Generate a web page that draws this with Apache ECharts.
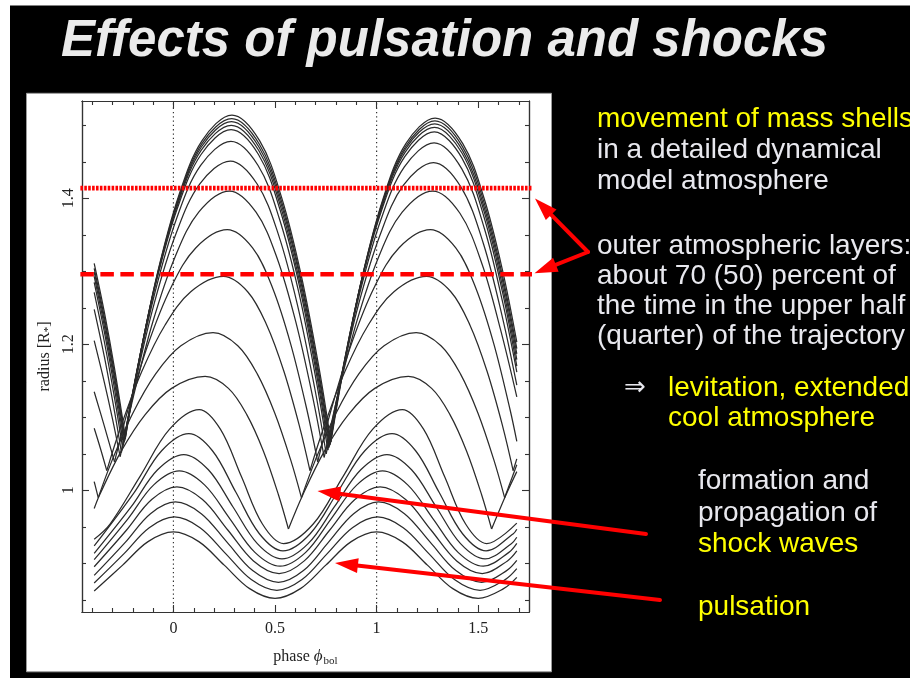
<!DOCTYPE html>
<html>
<head>
<meta charset="utf-8">
<script src="https://cdn.jsdelivr.net/npm/echarts@6/dist/echarts.min.js"></script>
<style>
  html, body { margin: 0; padding: 0; background: #000; }
  #chart { width: 910px; height: 678px; }
</style>
</head>
<body>
<div id="chart"></div>
<script>
// ---- Mass-shell trajectories: radius [R*] against bolometric phase ----
// Outer shells: ballistic arcs broken at each shock passage (one sub-array per arc).
const shell01 = [
  [[-0.39,1.311],[-0.34,1.244],[-0.29,1.167],[-0.236,1.072]],
  [[-0.236,1.072],[-0.173,1.172],[-0.079,1.297],[0.026,1.4035],[0.141,1.479],[0.288,1.514],[0.424,1.479],[0.5315,1.402],[0.629,1.2945],[0.717,1.167],[0.775,1.066]],
  [[0.775,1.066],[0.837,1.166],[0.929,1.292],[1.0315,1.399],[1.144,1.475],[1.288,1.51],[1.424,1.475],[1.53,1.399],[1.62,1.301],[1.69,1.203]]
];
const shell02 = [
  [[-0.39,1.304],[-0.34,1.237],[-0.29,1.160],[-0.238,1.070]],
  [[-0.238,1.070],[-0.175,1.169],[-0.0805,1.294],[0.0245,1.399],[0.140,1.475],[0.287,1.509],[0.423,1.474],[0.5295,1.398],[0.6265,1.291],[0.714,1.164],[0.772,1.064]],
  [[0.772,1.064],[0.834,1.164],[0.9265,1.289],[1.0295,1.3955],[1.143,1.471],[1.287,1.506],[1.423,1.4705],[1.53,1.393],[1.62,1.293],[1.69,1.194]]
];
const shell03 = [
  [[-0.39,1.299],[-0.34,1.232],[-0.29,1.155],[-0.24,1.068]],
  [[-0.24,1.068],[-0.177,1.1666],[-0.082,1.291],[0.023,1.396],[0.139,1.471],[0.286,1.505],[0.4215,1.470],[0.528,1.394],[0.625,1.288],[0.712,1.162],[0.770,1.062]],
  [[0.770,1.062],[0.832,1.161],[0.925,1.286],[1.028,1.392],[1.1415,1.4675],[1.286,1.502],[1.422,1.466],[1.53,1.387],[1.62,1.287],[1.69,1.187]]
];
const shell04 = [
  [[-0.39,1.293],[-0.34,1.225],[-0.29,1.148],[-0.243,1.066]],
  [[-0.243,1.066],[-0.180,1.164],[-0.085,1.287],[0.021,1.3915],[0.137,1.466],[0.285,1.5],[0.420,1.4655],[0.526,1.39],[0.6225,1.284],[0.709,1.159],[0.767,1.06]],
  [[0.767,1.06],[0.829,1.1586],[0.922,1.283],[1.026,1.388],[1.140,1.463],[1.285,1.497],[1.42,1.462],[1.53,1.381],[1.62,1.279],[1.69,1.179]]
];
const shell05 = [
  [[-0.39,1.285],[-0.34,1.217],[-0.29,1.139],[-0.246,1.063]],
  [[-0.246,1.063],[-0.182,1.160],[-0.087,1.283],[0.019,1.386],[0.136,1.460],[0.284,1.494],[0.4185,1.460],[0.524,1.385],[0.62,1.280],[0.706,1.156],[0.764,1.058]],
  [[0.764,1.058],[0.826,1.1557],[0.92,1.279],[1.024,1.383],[1.1385,1.457],[1.284,1.491],[1.42,1.455],[1.53,1.373],[1.62,1.271],[1.69,1.170]]
];
const shell06 = [
  [[-0.39,1.271],[-0.34,1.2035],[-0.29,1.1265],[-0.25,1.058]],
  [[-0.25,1.058],[-0.186,1.153],[-0.09,1.272],[0.0165,1.373],[0.134,1.445],[0.283,1.478],[0.4166,1.445],[0.5215,1.372],[0.617,1.271],[0.703,1.150],[0.76,1.055]],
  [[0.76,1.055],[0.823,1.150],[0.917,1.270],[1.0215,1.371],[1.1366,1.443],[1.283,1.476],[1.42,1.44],[1.53,1.359],[1.62,1.258],[1.69,1.162]]
];
const shell07 = [
  [[-0.39,1.248],[-0.34,1.183],[-0.29,1.108],[-0.256,1.052]],
  [[-0.256,1.052],[-0.1917,1.142],[-0.0952,1.2555],[0.012,1.351],[0.1299,1.4197],[0.28,1.451],[0.412,1.4196],[0.516,1.351],[0.61,1.2545],[0.695,1.1405],[0.752,1.05]],
  [[0.752,1.05],[0.815,1.14],[0.91,1.2535],[1.016,1.349],[1.132,1.418],[1.28,1.449],[1.415,1.4155],[1.525,1.3385],[1.62,1.236],[1.69,1.144]]
];
const shell08 = [
  [[-0.39,1.205],[-0.34,1.148],[-0.30,1.098],[-0.262,1.046]],
  [[-0.262,1.046],[-0.1974,1.128],[-0.1006,1.2316],[0.007,1.319],[0.1254,1.3815],[0.276,1.41],[0.4065,1.381],[0.509,1.319],[0.602,1.231],[0.686,1.127],[0.742,1.045]],
  [[0.742,1.045],[0.806,1.127],[0.902,1.231],[1.009,1.319],[1.126,1.381],[1.276,1.41],[1.41,1.3795],[1.52,1.309],[1.61,1.22],[1.69,1.128]]
];
const shell09 = [
  [[-0.39,1.135],[-0.34,1.088],[-0.29,1.039]],
  [[-0.29,1.039],[-0.2234,1.1107],[-0.1235,1.201],[-0.0125,1.2775],[0.1096,1.332],[0.265,1.357],[0.3896,1.332],[0.4875,1.2775],[0.5765,1.201],[0.6566,1.1107],[0.71,1.039]],
  [[0.71,1.039],[0.7766,1.1107],[0.8765,1.201],[0.9875,1.2775],[1.1096,1.332],[1.265,1.357],[1.3896,1.332],[1.4875,1.2775],[1.5765,1.201],[1.6566,1.1107],[1.69,1.067]]
];
const shell10 = [
  [[-0.39,1.085],[-0.36,1.058],[-0.328,1.027]],
  [[-0.328,1.027],[-0.259,1.087],[-0.1558,1.1627],[-0.041,1.2265],[0.0853,1.272],[0.246,1.293],[0.3653,1.272],[0.459,1.2265],[0.544,1.1627],[0.621,1.087],[0.672,1.027]],
  [[0.672,1.027],[0.741,1.087],[0.844,1.1627],[0.959,1.2265],[1.0853,1.272],[1.246,1.293],[1.3653,1.272],[1.459,1.2265],[1.544,1.1627],[1.621,1.087],[1.672,1.027]],
  [[1.672,1.027],[1.69,1.043]]
];
const shell11 = [
  [[-0.39,1.012],[-0.37,0.99]],
  [[-0.37,0.99],[-0.302,1.041],[-0.2005,1.1053],[-0.0875,1.1595],[0.0368,1.198],[0.195,1.216],[0.3168,1.198],[0.4125,1.1595],[0.4995,1.1053],[0.5778,1.041],[0.63,0.99]],
  [[0.63,0.99],[0.698,1.041],[0.7995,1.1053],[0.9125,1.1595],[1.0368,1.198],[1.195,1.216],[1.3168,1.198],[1.4125,1.1595],[1.4995,1.1053],[1.5778,1.041],[1.63,0.99]],
  [[1.63,0.99],[1.69,1.035]]
];
const shell12 = [
  [[-0.39,0.975],[-0.363,0.994],[-0.257,1.0536],[-0.139,1.1037],[-0.009,1.1396],[0.156,1.156],[0.2708,1.1396],[0.361,1.1037],[0.443,1.0536],[0.5168,0.994],[0.566,0.947]],
  [[0.566,0.947],[0.637,0.994],[0.743,1.0536],[0.861,1.1037],[0.991,1.1396],[1.156,1.156],[1.2708,1.1396],[1.361,1.1037],[1.443,1.0536],[1.5168,0.994],[1.566,0.947]],
  [[1.566,0.947],[1.637,0.994],[1.69,1.0256]]
];
// Inner shells: smooth pulsation, no shock break.
const shell13 = [[-0.39,0.933],[-0.312,0.9538],[-0.165,1.0188],[-0.019,1.0837],[0.127,1.1105],[0.231,1.0837],[0.3345,1.0188],[0.438,0.9538],[0.542,0.927],[0.688,0.9538],[0.8345,1.0188],[0.981,1.0837],[1.127,1.1105],[1.231,1.0837],[1.3345,1.0188],[1.438,0.9538],[1.542,0.927],[1.69,0.955]];
const shell14 = [[-0.39,0.9238],[-0.1925,0.9973],[-0.058,1.0542],[0.076,1.0776],[0.192,1.0542],[0.3075,0.9973],[0.423,0.9405],[0.539,0.917],[0.673,0.9405],[0.8075,0.9973],[0.942,1.0542],[1.076,1.0776],[1.192,1.0542],[1.3075,0.9973],[1.423,0.9405],[1.539,0.917],[1.673,0.9405],[1.69,0.9466]];
const shell15 = [[-0.39,0.9135],[-0.2075,0.9775],[-0.078,1.0281],[0.051,1.049],[0.172,1.0281],[0.2925,0.9775],[0.413,0.9269],[0.534,0.906],[0.663,0.9269],[0.7925,0.9775],[0.922,1.0281],[1.051,1.049],[1.172,1.0281],[1.2925,0.9775],[1.413,0.9269],[1.534,0.906],[1.663,0.9269],[1.69,0.9357]];
const shell16 = [[-0.39,0.905],[-0.223,0.9613],[-0.097,1.0074],[0.029,1.0265],[0.153,1.0074],[0.277,0.9613],[0.401,0.915],[0.525,0.896],[0.651,0.915],[0.777,0.9613],[0.903,1.0074],[1.029,1.0265],[1.153,1.0074],[1.277,0.9613],[1.401,0.915],[1.525,0.896],[1.651,0.915],[1.69,0.9273]];
const shell17 = [[-0.39,0.8953],[-0.2315,0.9453],[-0.107,0.9873],[0.017,1.0046],[0.143,0.9873],[0.2685,0.9453],[0.394,0.9033],[0.52,0.886],[0.644,0.9033],[0.7685,0.9453],[0.893,0.9873],[1.017,1.0046],[1.143,0.9873],[1.2685,0.9453],[1.394,0.9033],[1.52,0.886],[1.644,0.9033],[1.69,0.9169]];
const shell18 = [[-0.39,0.8834],[-0.236,0.929],[-0.113,0.968],[0.01,0.984],[0.137,0.968],[0.2635,0.929],[0.39,0.890],[0.517,0.874],[0.64,0.890],[0.7635,0.929],[0.887,0.968],[1.01,0.984],[1.137,0.968],[1.2635,0.929],[1.39,0.890],[1.517,0.874],[1.64,0.890],[1.69,0.904]];
const shell19 = [[-0.39,0.873],[-0.243,0.9133],[-0.119,0.9488],[0.005,0.9635],[0.131,0.9488],[0.257,0.9133],[0.383,0.8777],[0.509,0.863],[0.633,0.8777],[0.757,0.9133],[0.881,0.9488],[1.005,0.9635],[1.131,0.9488],[1.257,0.9133],[1.383,0.8777],[1.509,0.863],[1.633,0.8777],[1.69,0.8926]];
const shell20 = [[-0.39,0.862],[-0.25,0.8975],[-0.125,0.9297],[0,0.943],[0.125,0.9297],[0.25,0.8975],[0.375,0.8653],[0.5,0.852],[0.625,0.8653],[0.75,0.8975],[0.875,0.9297],[1,0.943],[1.125,0.9297],[1.25,0.8975],[1.375,0.8653],[1.5,0.852],[1.625,0.8653],[1.69,0.8808]];

// Reference radii marked in red: upper-quarter and upper-half levels of the outer trajectory
const upperQuarterLevel = 1.414;
const upperHalfLevel = 1.296;
const levelSpan = [-0.458, 1.777];
// Phases of maximum light (dotted guides)
const phaseGuides = [0, 1];

// Axis ranges and ticks
const phaseRange = [-0.45, 1.75];
const radiusRange = [0.8333, 1.5333];
const phaseMajor = [0, 0.5, 1, 1.5];
const phaseMinor = [-0.4,-0.3,-0.2,-0.1,0.1,0.2,0.3,0.4,0.6,0.7,0.8,0.9,1.1,1.2,1.3,1.4,1.6,1.7];
const radiusMajor = [1, 1.2, 1.4];
const radiusMinor = [0.85,0.9,0.95,1.05,1.1,1.15,1.25,1.3,1.35,1.45,1.5];

const AXIS_INK = '#333';
const SERIF = '"Liberation Serif", "DejaVu Serif", serif';
const SANS = '"Liberation Sans", Arial, sans-serif';

function axisSpec(kind, position, ticks, len, labelled) {
  const range = kind === 'x' ? phaseRange : radiusRange;
  return {
    type: 'value', position: position, min: range[0], max: range[1],
    axisLine: { show: true, onZero: false, lineStyle: { color: AXIS_INK, width: 1.2 } },
    axisTick: { show: true, inside: true, length: len, customValues: ticks, lineStyle: { color: AXIS_INK, width: 1.1 } },
    axisLabel: labelled
      ? { show: true, customValues: ticks, color: '#222', fontFamily: SERIF, fontSize: 16,
          margin: kind === 'y' ? 5 : 9, rotate: kind === 'y' ? 90 : 0 }
      : { show: false },
    splitLine: { show: false }
  };
}

const xAxes = [
  Object.assign(axisSpec('x', 'bottom', phaseMajor, 7, true), {
    name: 'phase {phi|ϕ}{sub|bol}', nameLocation: 'middle', nameGap: 35,
    nameTextStyle: { color: '#222', fontFamily: SERIF, fontSize: 16,
      rich: { phi: { fontFamily: SERIF, fontStyle: 'italic', fontSize: 17, color: '#222' },
              sub: { fontFamily: SERIF, fontSize: 11, color: '#222', padding: [9, 0, 0, 1] } } }
  }),
  axisSpec('x', 'bottom', phaseMinor, 4, false),
  axisSpec('x', 'top', phaseMajor, 7, false),
  axisSpec('x', 'top', phaseMinor, 4, false)
];
const yAxes = [
  Object.assign(axisSpec('y', 'left', radiusMajor, 7, true), {
    name: 'radius [R{sub|*}]', nameLocation: 'middle', nameGap: 28, nameRotate: 90,
    nameTextStyle: { color: '#222', fontFamily: SERIF, fontSize: 16,
      rich: { sub: { fontFamily: SERIF, fontSize: 11, color: '#222', padding: [7, 0, 0, 0] } } }
  }),
  axisSpec('y', 'left', radiusMinor, 4, false),
  axisSpec('y', 'right', radiusMajor, 7, false),
  axisSpec('y', 'right', radiusMinor, 4, false)
];

// Build one line series per trajectory arc
const outerShells = [shell01, shell02, shell03, shell04, shell05, shell06, shell07, shell08, shell09, shell10, shell11, shell12];
const innerShells = [shell13, shell14, shell15, shell16, shell17, shell18, shell19, shell20];
const series = [];
function addArc(points) {
  series.push({
    type: 'line', data: points, smooth: 0.35, symbol: 'none', silent: true, z: 3,
    lineStyle: { color: '#2b2b2b', width: 1.25 }
  });
}
outerShells.forEach(arcs => arcs.forEach(addArc));
innerShells.forEach(addArc);

phaseGuides.forEach(g => {
  series.push({
    type: 'line', data: [[g, radiusRange[0]], [g, radiusRange[1]]], symbol: 'none', silent: true, z: 2,
    lineStyle: { color: '#333', width: 1.2, type: [1.3, 3] }
  });
});
series.push({
  type: 'line', data: [[levelSpan[0], upperQuarterLevel], [levelSpan[1], upperQuarterLevel]],
  symbol: 'none', silent: true, clip: false, z: 6,
  lineStyle: { color: '#ff0000', width: 4.6, type: [2.6, 1.3] }
});
series.push({
  type: 'line', data: [[levelSpan[0], upperHalfLevel], [levelSpan[1] - 0.006, upperHalfLevel]],
  symbol: 'none', silent: true, clip: false, z: 6,
  lineStyle: { color: '#ff0000', width: 4.6, type: [13.5, 6.5] }
});

// ---- Slide decoration: panel, title, captions and pointer arrows ----
function arrow(x1, y1, x2, y2) {
  const dx = x2 - x1, dy = y2 - y1, L = Math.hypot(dx, dy);
  const ux = dx / L, uy = dy / L, hl = 23, hw = 7.5;
  const bx = x2 - ux * hl, by = y2 - uy * hl;
  return [
    { type: 'line', z: 100, shape: { x1: x1, y1: y1, x2: bx + ux * 3, y2: by + uy * 3 },
      style: { stroke: '#ff0000', lineWidth: 4, lineCap: 'round' } },
    { type: 'polygon', z: 100, shape: { points: [[x2, y2], [bx - uy * hw, by + ux * hw], [bx + uy * hw, by - ux * hw]] },
      style: { fill: '#ff0000' } }
  ];
}
function caption(text, x, baseline, color) {
  return { type: 'text', z: 100, x: x, y: baseline - 7,
    style: { text: text, fill: color, font: '28px ' + SANS, verticalAlign: 'middle', align: 'left' } };
}
const WHITE = '#e8e8ee', YELLOW = '#ffff00';

const graphics = [
  { type: 'rect', z: -20, shape: { x: 0, y: 0, width: 910, height: 5.5 }, style: { fill: '#ffffff' } },
  { type: 'rect', z: -20, shape: { x: 0, y: 0, width: 10, height: 678 }, style: { fill: '#ffffff' } },
  { type: 'rect', z: -10, shape: { x: 26.5, y: 93.3, width: 525, height: 578.5 }, style: { fill: '#ffffff', stroke: '#9a9a9a', lineWidth: 1 } },
  { type: 'text', z: 100, x: 61, y: 42,
    style: { text: 'Effects of pulsation and shocks', fill: '#ebebeb', font: 'italic bold 51px ' + SANS, verticalAlign: 'middle' } },
  caption('movement of mass shells', 597, 126.7, YELLOW),
  caption('in a detailed dynamical', 597, 157.3, WHITE),
  caption('model atmosphere', 597, 188.3, WHITE),
  caption('outer atmospheric layers:', 597, 253.3, WHITE),
  caption('about 70 (50) percent of', 597, 283.5, WHITE),
  caption('the time in the upper half', 597, 313.5, WHITE),
  caption('(quarter) of the trajectory', 597, 343.5, WHITE),
  { type: 'text', z: 100, x: 624, y: 388,
    style: { text: '⇒', fill: WHITE, font: '26px "DejaVu Sans", sans-serif', verticalAlign: 'middle' } },
  caption('levitation, extended', 668, 395.5, YELLOW),
  caption('cool atmosphere', 668, 425.5, YELLOW),
  caption('formation and', 698, 488.5, WHITE),
  caption('propagation of', 698, 520.5, WHITE),
  caption('shock waves', 698, 551, YELLOW),
  caption('pulsation', 698, 614, YELLOW)
].concat(
  arrow(588, 252, 535, 198.5),
  arrow(588, 252, 534.5, 273.3),
  arrow(646, 534, 317.5, 491),
  arrow(660, 600, 335, 563)
);

const chart = echarts.init(document.getElementById('chart'), null, { renderer: 'canvas' });
chart.setOption({
  backgroundColor: '#000000',
  animation: false,
  grid: { left: 82, right: 381, top: 101, bottom: 66, show: false },
  xAxis: xAxes,
  yAxis: yAxes,
  series: series.map(s => Object.assign({ xAxisIndex: 0, yAxisIndex: 0 }, s)),
  graphic: { elements: graphics }
});
</script>
</body>
</html>
